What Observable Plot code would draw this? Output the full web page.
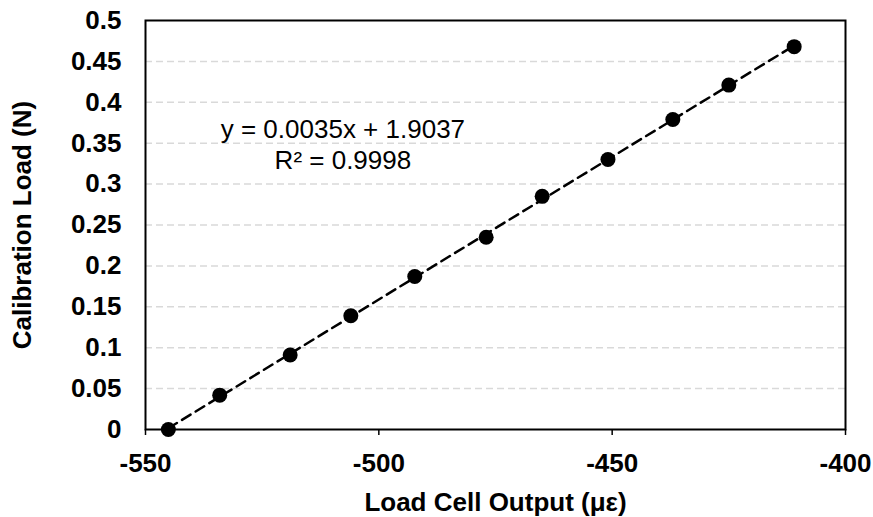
<!DOCTYPE html>
<html>
<head>
<meta charset="utf-8">
<script src="https://cdn.jsdelivr.net/npm/d3@7"></script>
<script src="https://cdn.jsdelivr.net/npm/@observablehq/plot@0.6"></script>
<style>
  html, body { margin: 0; padding: 0; background: #fff; }
  #chart svg { font-family: "Liberation Sans", Arial, sans-serif; }
</style>
</head>
<body>
<div id="chart"></div>
<script>
// Data
const loadCellOutput = [-545.1, -534.1, -519.0, -506.0, -492.3, -477.0, -465.0, -450.9, -437.0, -425.0, -411.0];
const calibrationLoad = [0.000, 0.042, 0.091, 0.139, 0.187, 0.235, 0.285, 0.330, 0.379, 0.421, 0.468];

const xTicks = [-550, -500, -450, -400];
const yTicks = [0, 0.05, 0.1, 0.15, 0.2, 0.25, 0.3, 0.35, 0.4, 0.45, 0.5];
const gridTicks = [0.05, 0.1, 0.15, 0.2, 0.25, 0.3, 0.35, 0.4, 0.45];

const annotationText = ["y = 0.0035x + 1.9037", "R² = 0.9998"];
const annotationX = [-507.7, -507.7];
const annotationY = [0.367, 0.329];

const xLabel = "Load Cell Output (με)";
const yLabel = "Calibration Load (N)";

const points = loadCellOutput.map((x, i) => ({x, y: calibrationLoad[i]}));
const notes = annotationText.map((t, i) => ({t, x: annotationX[i], y: annotationY[i]}));

const chart = Plot.plot({
  width: 873,
  height: 517,
  marginLeft: 145,
  marginRight: 28,
  marginTop: 20,
  marginBottom: 88,
  style: {fontFamily: "Liberation Sans, Arial, sans-serif", background: "#fff"},
  x: {domain: [-550, -400]},
  y: {domain: [0, 0.5]},
  marks: [
    Plot.gridY(gridTicks, {stroke: "#d9d9d9", strokeOpacity: 1, strokeWidth: 1.5, strokeDasharray: "7,4"}),
    Plot.axisY({
      ticks: yTicks, tickSize: 0, tickPadding: 24,
      tickFormat: d => String(+d.toFixed(2)),
      fontSize: 26, fontWeight: "bold", fill: "black",
      label: yLabel, labelAnchor: "center", labelOffset: 133, labelArrow: "none"
    }),
    Plot.axisX({
      ticks: xTicks, tickSize: 6, tickPadding: 18, stroke: "black", strokeWidth: 1.5,
      tickFormat: d => String(d),
      fontSize: 26, fontWeight: "bold", fill: "black",
      label: xLabel, labelAnchor: "center", labelOffset: 81, labelArrow: "none"
    }),
    Plot.frame({stroke: "black", strokeWidth: 2}),
    Plot.linearRegressionY(points, {x: "x", y: "y", ci: 0, stroke: "black", strokeWidth: 2.5, strokeDasharray: "10,6"}),
    Plot.dot(points, {x: "x", y: "y", r: 7.5, fill: "black", stroke: "none"}),
    Plot.text(notes, {x: "x", y: "y", text: "t", fontSize: 26, fill: "black", fontWeight: "normal", textAnchor: "middle", lineAnchor: "middle"})
  ]
});
document.getElementById("chart").append(chart);
</script>
</body>
</html>
